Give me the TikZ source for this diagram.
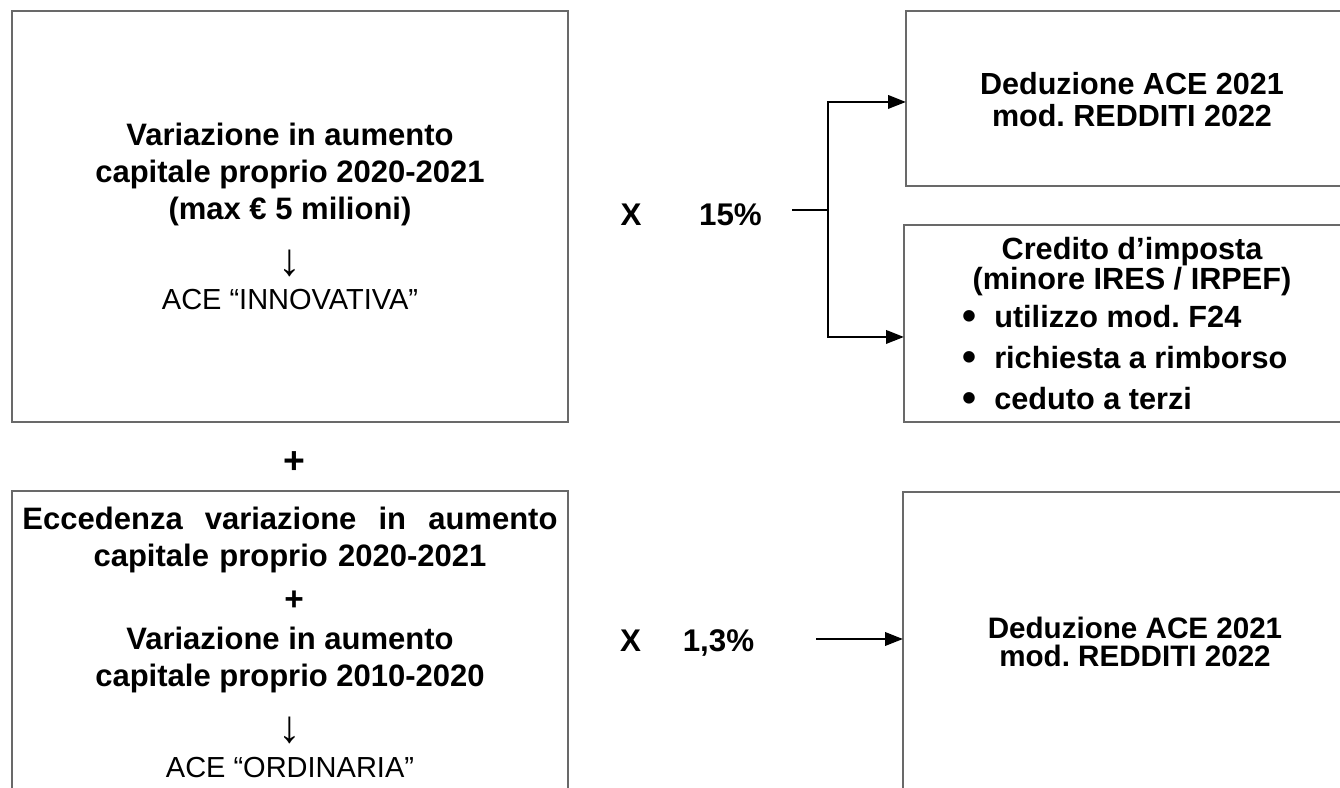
\documentclass[tikz,border=0pt]{standalone}
\usepackage{fontspec}
\setmainfont{Liberation Sans}
\usetikzlibrary{arrows.meta}
\frenchspacing

\tikzset{
  box/.style={draw={rgb, 255:red, 105; green, 105; blue, 105}, line width=1.1pt, inner sep=0pt, outer sep=0pt, anchor=north west},
  conn/.style={color=black, line width=2pt},
  arr/.style={conn, -{Triangle[length=13.5pt,width=10pt]}},
  bigtxt/.style={font=\fontsize{23.25}{27.4}\selectfont\bfseries, align=center, inner sep=0pt},
  thintxt/.style={font=\fontsize{21.75}{26}\selectfont, inner sep=0pt},
  downtxt/.style={font=\fontsize{34}{34}\selectfont, inner sep=0pt},
  pcttxt/.style={font=\fontsize{23.5}{24}\selectfont\bfseries, inner sep=0pt}
}
\newcommand{\blt}{\makebox[24pt][l]{\raisebox{-1.5pt}{\fontsize{30}{30}\selectfont•}}}

\begin{document}
\begin{tikzpicture}[x=0.75pt,y=0.75pt,yscale=-1,xscale=1]
\useasboundingbox (0,0) rectangle (1340,788);
\clip (0,0) rectangle (1340,788);

%Shape: Rectangle [innovativa]
\node [box, minimum width=417pt, minimum height=308.25pt] (boxA) at (12,11) {};
%Shape: Rectangle [ordinaria]
\node [box, minimum width=417pt, minimum height=239.25pt] (boxD) at (12,491) {};
%Shape: Rectangle [deduzione 15%]
\node [box, minimum width=340.5pt, minimum height=131.25pt] (boxB) at (906,11) {};
%Shape: Rectangle [credito]
\node [box, minimum width=342pt, minimum height=147.75pt] (boxC) at (904,225) {};
%Shape: Rectangle [deduzione 1,3%]
\node [box, minimum width=342.75pt, minimum height=238.5pt] (boxE) at (903,492) {};

% Text Node
\draw (290,174.5) node [bigtxt] (varA) {Variazione in aumento\\capitale proprio 2020-2021\\(max € 5 milioni)};
% Text Node
\draw (290,263) node [downtxt] (downA) {↓};
% Text Node
\draw (290,300) node [thintxt] (aceA) {ACE “INNOVATIVA”};
% Text Node
\draw (294,463) node [font=\fontsize{28}{28}\selectfont\bfseries, inner sep=0pt] (plus) {+};
% Text Node
\draw (290,540) node [bigtxt, text width=401.25pt] (eccD) {Eccedenza\hfill variazione\hfill in\hfill aumento\\capitale proprio 2020-2021};
% Text Node
\draw (294,601) node [font=\fontsize{25}{25}\selectfont\bfseries, inner sep=0pt] (plusD) {+};
% Text Node
\draw (290,660) node [bigtxt] (varD) {Variazione in aumento\\capitale proprio 2010-2020};
% Text Node
\draw (290,730) node [downtxt] (downD) {↓};
% Text Node
\draw (290,767.5) node [thintxt] (aceD) {ACE “ORDINARIA”};

% Text Node
\draw (1132,100) node [font=\fontsize{22.9}{24}\selectfont\bfseries, align=center, inner sep=0pt] (dedB) {Deduzione ACE 2021\\mod. REDDITI 2022};
% Text Node
\draw (1132,267) node [font=\fontsize{23}{22.5}\selectfont\bfseries, align=center, inner sep=0pt] (credC) {Credito d’imposta\\(minore IRES / IRPEF)};
% Text Node
\draw (962,358) node [anchor=west, align=left, font=\fontsize{23}{30.75}\selectfont\bfseries, inner sep=0pt] (listC) {\blt utilizzo mod. F24\\\blt richiesta a rimborso\\\blt ceduto a terzi};
% Text Node
\draw (1135,641.5) node [font=\fontsize{22.2}{21}\selectfont\bfseries, align=center, inner sep=0pt] (dedE) {Deduzione ACE 2021\\mod. REDDITI 2022};

% Text Node
\draw (631,215) node [pcttxt] (xTop) {X};
% Text Node
\draw (730.5,215) node [pcttxt] (pTop) {15\%};
% Text Node
\draw (630.5,641) node [pcttxt] (xBot) {X};
% Text Node
\draw (718.5,643) node [pcttxt] (pBot) {1,3\%};

%Straight Lines [fork]
\coordinate (split) at (792,210);
\coordinate (fork) at (828,210);
\draw [conn] (split) -- (fork);
\draw [arr] (fork) |- ([yshift=2.6pt]boxB.west);
\draw [arr] (fork) |- ([yshift=10.1pt]boxC.west);
%Straight Lines [ordinaria]
\coordinate (tail) at (816,639);
\draw [arr] (tail) -- (tail -| boxE.west);

\end{tikzpicture}
\end{document}
